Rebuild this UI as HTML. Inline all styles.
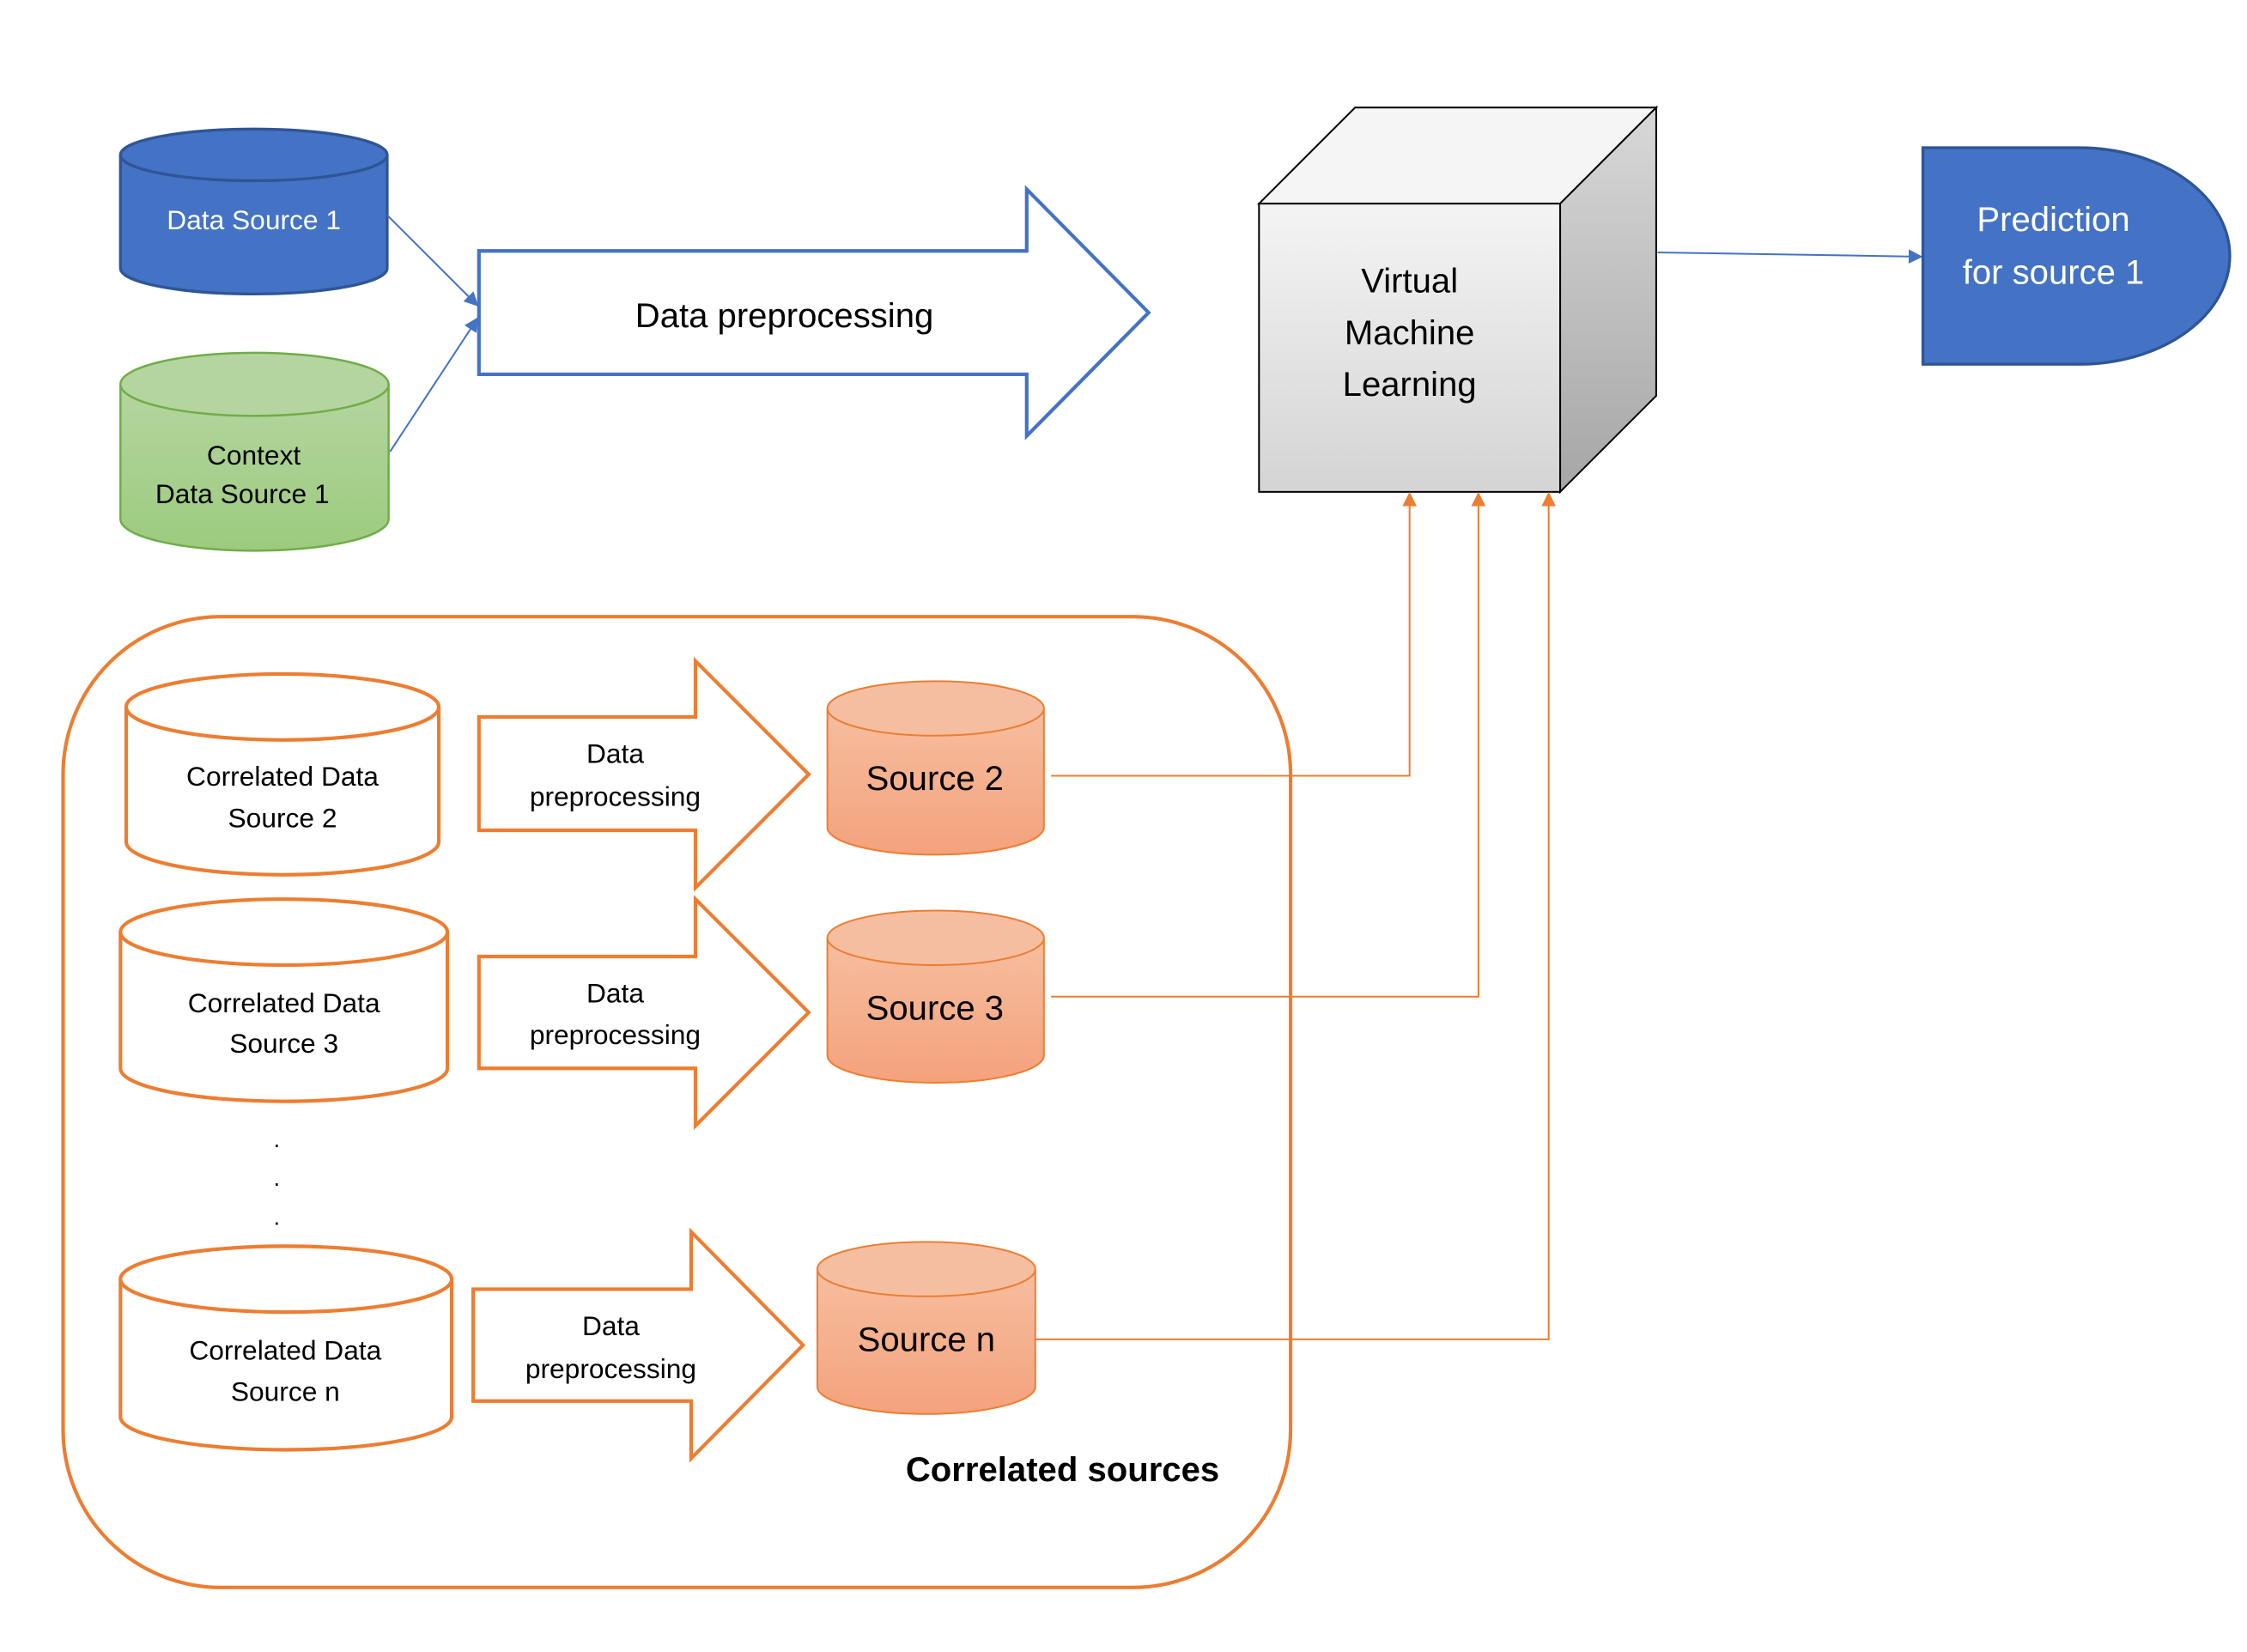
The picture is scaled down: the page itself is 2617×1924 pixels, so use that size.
<!DOCTYPE html>
<html><head><meta charset="utf-8"><style>
html,body{margin:0;padding:0;background:#fff;}
svg{display:block;}
text{font-family:"Liberation Sans",sans-serif;}
</style></head><body>
<svg width="2617" height="1924" viewBox="0 0 1567 1152" preserveAspectRatio="none" xmlns="http://www.w3.org/2000/svg">
<defs>
<linearGradient id="grn" x1="0" y1="0" x2="0" y2="1"><stop offset="0" stop-color="#B4D5A0"/><stop offset="1" stop-color="#9CCB7E"/></linearGradient>
<linearGradient id="org" x1="0" y1="0" x2="0" y2="1"><stop offset="0" stop-color="#F6BEA0"/><stop offset="1" stop-color="#F4A27C"/></linearGradient>
<linearGradient id="front" x1="0" y1="0" x2="0" y2="1"><stop offset="0" stop-color="#F4F4F4"/><stop offset="1" stop-color="#D4D4D4"/></linearGradient>
<linearGradient id="side" x1="0" y1="0" x2="0" y2="1"><stop offset="0" stop-color="#D8D8D8"/><stop offset="1" stop-color="#A6A6A6"/></linearGradient>
<marker id="ab" markerWidth="10" markerHeight="10" refX="9" refY="5" orient="auto" markerUnits="userSpaceOnUse"><path d="M0,0 L10,5 L0,10 Z" fill="#4472C4"/></marker>
<marker id="ao" markerWidth="10" markerHeight="10" refX="9" refY="5" orient="auto" markerUnits="userSpaceOnUse"><path d="M0,0 L10,5 L0,10 Z" fill="#ED7D31"/></marker>
</defs>

<path d="M84,108 V187 A93,18 0 0 0 270,187 V108" fill="#4472C4" stroke="#2F5597" stroke-width="2"/>
<ellipse cx="177" cy="108" rx="93" ry="18" fill="#4472C4" stroke="#2F5597" stroke-width="2"/>
<text x="177" y="160" font-size="19" fill="#fff" text-anchor="middle">Data Source 1</text>

<path d="M84,268 V362 A93.5,22 0 0 0 271,362 V268" fill="url(#grn)" stroke="#70AD47" stroke-width="1.5"/>
<ellipse cx="177.5" cy="268" rx="93.5" ry="22" fill="#B4D5A0" stroke="#70AD47" stroke-width="1.5"/>
<text x="177" y="324" font-size="19" fill="#000" text-anchor="middle">Context</text>
<text x="169" y="351" font-size="19" fill="#000" text-anchor="middle">Data Source 1</text>

<line x1="270" y1="150" x2="333" y2="213" stroke="#4472C4" stroke-width="1.2" marker-end="url(#ab)"/>
<line x1="272" y1="315" x2="333" y2="222" stroke="#4472C4" stroke-width="1.2" marker-end="url(#ab)"/>

<path d="M334,175 H716 V132 L801,218 L716,304 V261 H334 Z" fill="#fff" stroke="#4472C4" stroke-width="2.5"/>
<text x="547" y="228" font-size="24" text-anchor="middle">Data preprocessing</text>

<path d="M878,142 L945,75 H1155 L1088,142 Z" fill="#F5F5F5" stroke="#000" stroke-width="1.2"/>
<path d="M1088,142 L1155,75 V276 L1088,343 Z" fill="url(#side)" stroke="#000" stroke-width="1.2"/>
<rect x="878" y="142" width="210" height="201" fill="url(#front)" stroke="#000" stroke-width="1.2"/>
<text x="983" y="204" font-size="24" text-anchor="middle">Virtual</text>
<text x="983" y="240" font-size="24" text-anchor="middle">Machine</text>
<text x="983" y="276" font-size="24" text-anchor="middle">Learning</text>

<line x1="1156" y1="176" x2="1340" y2="179" stroke="#4472C4" stroke-width="1.2" marker-end="url(#ab)"/>

<path d="M1341,103 H1450 A105,75.5 0 0 1 1450,254 H1341 Z" fill="#4472C4" stroke="#2F5597" stroke-width="2"/>
<text x="1432" y="161" font-size="24" fill="#fff" text-anchor="middle">Prediction</text>
<text x="1432" y="198" font-size="24" fill="#fff" text-anchor="middle">for source 1</text>

<rect x="44" y="430" width="856" height="677" rx="110" ry="110" fill="none" stroke="#ED7D31" stroke-width="2.5"/>
<text x="741" y="1033" font-size="24" font-weight="bold" text-anchor="middle">Correlated sources</text>

<path d="M88,493 V587 A109,23 0 0 0 306,587 V493" fill="#fff" stroke="#ED7D31" stroke-width="2.5"/>
<ellipse cx="197" cy="493" rx="109" ry="23" fill="#fff" stroke="#ED7D31" stroke-width="2.5"/>
<text x="197" y="548" font-size="19" text-anchor="middle">Correlated Data</text>
<text x="197" y="577" font-size="19" text-anchor="middle">Source 2</text>

<path d="M84,650 V745 A114,23 0 0 0 312,745 V650" fill="#fff" stroke="#ED7D31" stroke-width="2.5"/>
<ellipse cx="198" cy="650" rx="114" ry="23" fill="#fff" stroke="#ED7D31" stroke-width="2.5"/>
<text x="198" y="706" font-size="19" text-anchor="middle">Correlated Data</text>
<text x="198" y="734" font-size="19" text-anchor="middle">Source 3</text>

<text x="193" y="800" font-size="16" text-anchor="middle">.</text>
<text x="193" y="827" font-size="16" text-anchor="middle">.</text>
<text x="193" y="854" font-size="16" text-anchor="middle">.</text>

<path d="M84,892 V988 A115.5,23 0 0 0 315,988 V892" fill="#fff" stroke="#ED7D31" stroke-width="2.5"/>
<ellipse cx="199.5" cy="892" rx="115.5" ry="23" fill="#fff" stroke="#ED7D31" stroke-width="2.5"/>
<text x="199" y="948" font-size="19" text-anchor="middle">Correlated Data</text>
<text x="199" y="977" font-size="19" text-anchor="middle">Source n</text>

<path d="M334,500 H485 V461 L564,540 L485,619 V579 H334 Z" fill="#fff" stroke="#ED7D31" stroke-width="2.5"/>
<text x="429" y="532" font-size="19" text-anchor="middle">Data</text>
<text x="429" y="562" font-size="19" text-anchor="middle">preprocessing</text>
<path d="M334,667 H485 V627 L564,706 L485,785 V745 H334 Z" fill="#fff" stroke="#ED7D31" stroke-width="2.5"/>
<text x="429" y="699" font-size="19" text-anchor="middle">Data</text>
<text x="429" y="728" font-size="19" text-anchor="middle">preprocessing</text>
<path d="M330,899 H482 V859 L560,938 L482,1017 V977 H330 Z" fill="#fff" stroke="#ED7D31" stroke-width="2.5"/>
<text x="426" y="931" font-size="19" text-anchor="middle">Data</text>
<text x="426" y="961" font-size="19" text-anchor="middle">preprocessing</text>

<path d="M577,494 V577 A75.5,19 0 0 0 728,577 V494" fill="url(#org)" stroke="#ED7D31" stroke-width="1.2"/>
<ellipse cx="652.5" cy="494" rx="75.5" ry="19" fill="#F6BEA0" stroke="#ED7D31" stroke-width="1.2"/>
<text x="652" y="551" font-size="24" text-anchor="middle">Source 2</text>
<path d="M577,654 V736 A75.5,19 0 0 0 728,736 V654" fill="url(#org)" stroke="#ED7D31" stroke-width="1.2"/>
<ellipse cx="652.5" cy="654" rx="75.5" ry="19" fill="#F6BEA0" stroke="#ED7D31" stroke-width="1.2"/>
<text x="652" y="711" font-size="24" text-anchor="middle">Source 3</text>
<path d="M570,885 V967 A76,19 0 0 0 722,967 V885" fill="url(#org)" stroke="#ED7D31" stroke-width="1.2"/>
<ellipse cx="646" cy="885" rx="76" ry="19" fill="#F6BEA0" stroke="#ED7D31" stroke-width="1.2"/>
<text x="646" y="942" font-size="24" text-anchor="middle">Source n</text>

<polyline points="733,541 983,541 983,344" fill="none" stroke="#ED7D31" stroke-width="1.2" marker-end="url(#ao)"/>
<polyline points="733,695 1031,695 1031,344" fill="none" stroke="#ED7D31" stroke-width="1.2" marker-end="url(#ao)"/>
<polyline points="722,934 1080,934 1080,344" fill="none" stroke="#ED7D31" stroke-width="1.2" marker-end="url(#ao)"/>
</svg>
</body></html>
